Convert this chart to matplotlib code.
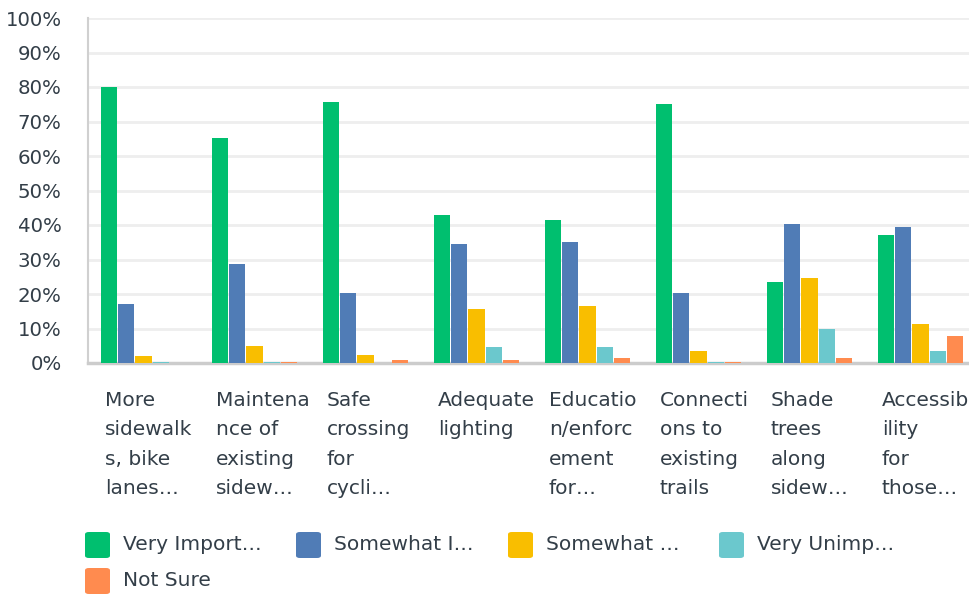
import numpy as np
import matplotlib
matplotlib.use("Agg")
import matplotlib.pyplot as plt
from matplotlib.patches import FancyBboxPatch

# survey answers, share of respondents (%)
categories = [
    "More\nsidewalk\ns, bike\nlanes…",
    "Maintena\nnce of\nexisting\nsidew…",
    "Safe\ncrossing\nfor\ncycli…",
    "Adequate\nlighting",
    "Educatio\nn/enforc\nement\nfor…",
    "Connecti\nons to\nexisting\ntrails",
    "Shade\ntrees\nalong\nsidew…",
    "Accessib\nility\nfor\nthose…",
]
series_names = ["Very Import…", "Somewhat I…", "Somewhat …", "Very Unimp…", "Not Sure"]
very_important = [80.0, 65.2, 75.7, 42.9, 41.4, 75.1, 23.5, 37.1]
somewhat_important = [17.1, 28.7, 20.3, 34.5, 35.1, 20.3, 40.3, 39.4]
somewhat_unimportant = [2.0, 4.9, 2.3, 15.7, 16.5, 3.5, 24.7, 11.3]
very_unimportant = [0.3, 0.3, 0.0, 4.6, 4.6, 0.3, 9.9, 3.5]
not_sure = [0.0, 0.3, 0.9, 0.9, 1.4, 0.3, 1.4, 7.8]

series = [very_important, somewhat_important, somewhat_unimportant, very_unimportant, not_sure]
colors = ["#00bf6f", "#507cb6", "#f9be00", "#6bc8cd", "#ff8b4f"]
text_col = "#333e48"
font = "DejaVu Sans"

W, H = 970, 594
fig = plt.figure(figsize=(W / 100, H / 100), dpi=100)
ax = fig.add_axes([88 / W, 1 - 363 / H, (976 - 88) / W, (363 - 18) / H])

x = np.arange(len(categories))
step = 0.157
for i, vals in enumerate(series):
    ax.bar(x + (i - 2) * step, vals, width=step - 0.012, color=colors[i], zorder=3)

ax.set_xlim(-0.5, len(categories) - 0.5)
ax.set_ylim(0, 100)
ax.set_yticks(np.arange(0, 101, 10))
ax.set_yticklabels([f"{v}%" for v in range(0, 101, 10)], fontsize=14.2,
                   color=text_col, family=font)
ax.tick_params(axis="y", length=0, pad=19)
ax.set_xticks([])
ax.grid(axis="y", color="#eeeeee", linewidth=2, zorder=0)
for s in ["top", "right"]:
    ax.spines[s].set_visible(False)
ax.spines["left"].set_color("#d0d0d0")
ax.spines["left"].set_linewidth(1.5)
ax.spines["bottom"].set_color("#cccccc")
ax.spines["bottom"].set_linewidth(2.5)

# wrapped category labels under each group
for xi, lab in zip(x, categories):
    ax.text(xi - 0.5 + 17 / 111, -8.1, lab, ha="left", va="top", fontsize=14.5,
            color=text_col, linespacing=1.7, family=font, clip_on=False)

# legend, drawn by hand
leg_x = [85, 296, 508, 719, 85]
leg_y = [545, 545, 545, 545, 581]
for name, c, lx, ly in zip(series_names, colors, leg_x, leg_y):
    box = FancyBboxPatch((lx / W, 1 - (ly + 13) / H), 25 / W, 26 / H,
                         boxstyle="round,pad=0,rounding_size=0.004",
                         transform=fig.transFigure, facecolor=c, edgecolor="none")
    fig.patches.append(box)
    fig.text((lx + 38) / W, 1 - ly / H, name, ha="left", va="center",
             fontsize=14.5, color=text_col, family=font)

fig.savefig("out.png", dpi=100)
